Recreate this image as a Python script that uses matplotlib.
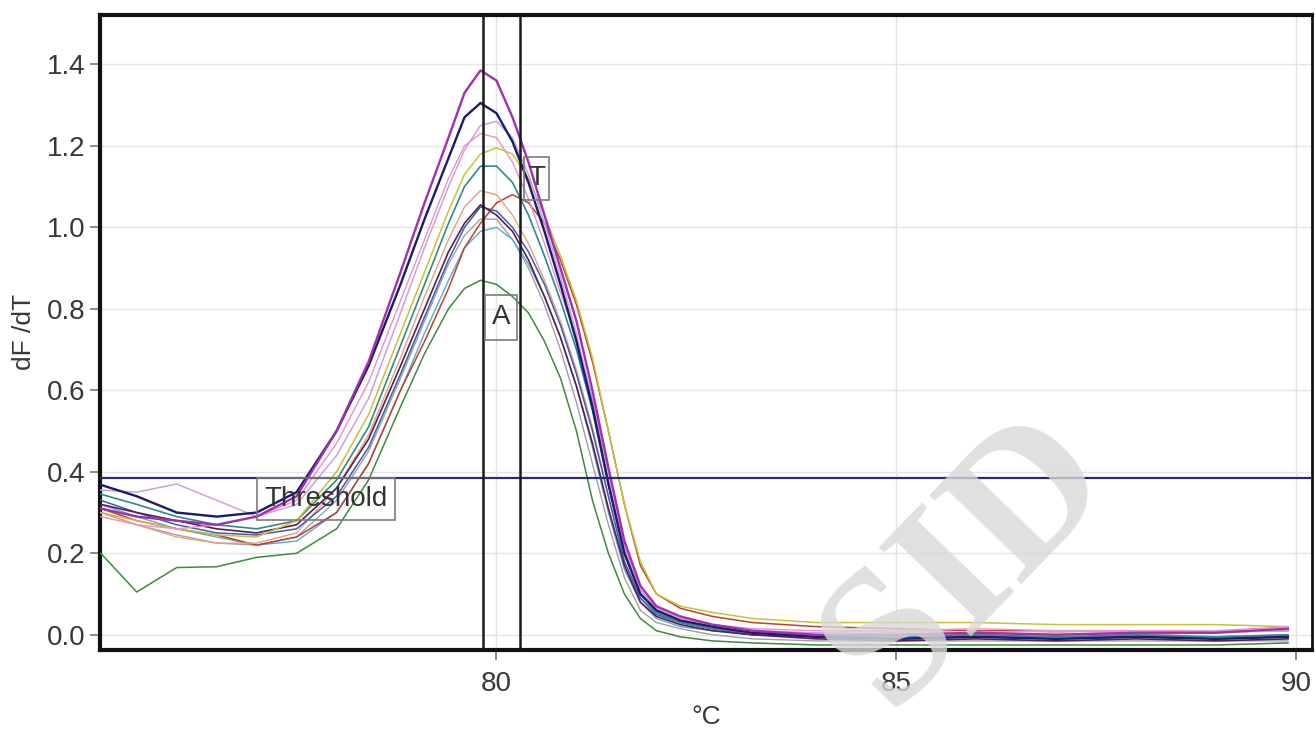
import matplotlib
matplotlib.use('Agg')
from matplotlib import pyplot as plt
from matplotlib.patches import Rectangle

# Melt curve data.
temps = [75.05, 75.5, 76.0, 76.5, 77.0, 77.5, 78.0, 78.4, 78.8, 79.1, 79.4, 79.6,
         79.8, 80.0, 80.2, 80.4, 80.6, 80.8, 81.0, 81.2, 81.4, 81.6, 81.8, 82.0,
         82.3, 82.7, 83.2, 84.0, 85.0, 86.0, 87.0, 88.0, 89.0, 89.9]

green = [0.20, 0.105, 0.165, 0.167, 0.19, 0.20, 0.26, 0.38, 0.56, 0.69, 0.80, 0.85,
         0.87, 0.86, 0.83, 0.79, 0.72, 0.63, 0.50, 0.33, 0.20, 0.10, 0.04, 0.01,
         -0.005, -0.015, -0.02, -0.025, -0.025, -0.025, -0.025, -0.025, -0.025, -0.02]
gray = [0.30, 0.27, 0.245, 0.225, 0.22, 0.24, 0.33, 0.45, 0.63, 0.77, 0.91, 0.98,
        1.02, 1.02, 0.97, 0.90, 0.81, 0.70, 0.57, 0.42, 0.27, 0.14, 0.06, 0.03,
        0.015, 0.0, -0.01, -0.015, -0.015, -0.015, -0.015, -0.015, -0.015, -0.015]
light_blue = [0.32, 0.29, 0.26, 0.24, 0.22, 0.23, 0.30, 0.42, 0.60, 0.74, 0.87, 0.95,
              0.99, 1.00, 0.97, 0.91, 0.83, 0.73, 0.61, 0.46, 0.30, 0.16, 0.08, 0.04,
              0.02, 0.01, 0.0, -0.005, -0.005, -0.005, -0.005, -0.005, -0.005, 0.0]
red = [0.31, 0.28, 0.26, 0.245, 0.22, 0.24, 0.30, 0.42, 0.60, 0.72, 0.85, 0.95,
       1.01, 1.06, 1.08, 1.06, 1.01, 0.92, 0.81, 0.67, 0.50, 0.32, 0.17, 0.10,
       0.065, 0.045, 0.03, 0.02, 0.015, 0.01, 0.01, 0.01, 0.01, 0.01]
salmon = [0.30, 0.27, 0.24, 0.225, 0.225, 0.25, 0.36, 0.49, 0.68, 0.83, 0.97, 1.05,
          1.09, 1.08, 1.03, 0.96, 0.87, 0.77, 0.65, 0.51, 0.34, 0.18, 0.09, 0.05,
          0.03, 0.015, 0.005, 0.0, 0.005, 0.0, 0.005, 0.0, 0.005, 0.01]
blue = [0.33, 0.30, 0.27, 0.25, 0.245, 0.26, 0.34, 0.46, 0.64, 0.78, 0.92, 1.00,
        1.05, 1.04, 1.00, 0.94, 0.86, 0.76, 0.64, 0.50, 0.34, 0.18, 0.09, 0.05,
        0.03, 0.015, 0.0, -0.005, -0.01, -0.005, -0.01, -0.005, -0.01, -0.005]
maroon = [0.32, 0.30, 0.28, 0.26, 0.25, 0.27, 0.36, 0.48, 0.66, 0.80, 0.94, 1.01,
          1.055, 1.03, 0.99, 0.92, 0.83, 0.73, 0.61, 0.47, 0.31, 0.17, 0.08, 0.045,
          0.025, 0.01, 0.0, -0.01, -0.015, -0.01, -0.015, -0.01, -0.015, -0.01]
teal = [0.345, 0.32, 0.29, 0.27, 0.26, 0.28, 0.38, 0.51, 0.71, 0.86, 1.01, 1.10,
        1.15, 1.15, 1.11, 1.03, 0.93, 0.82, 0.70, 0.55, 0.37, 0.20, 0.10, 0.055,
        0.03, 0.015, 0.005, 0.0, -0.005, 0.0, -0.005, 0.0, -0.005, 0.0]
olive = [0.30, 0.28, 0.26, 0.245, 0.24, 0.28, 0.40, 0.54, 0.74, 0.89, 1.04, 1.13,
         1.18, 1.195, 1.18, 1.12, 1.03, 0.93, 0.82, 0.68, 0.50, 0.32, 0.18, 0.10,
         0.07, 0.055, 0.04, 0.03, 0.03, 0.03, 0.025, 0.025, 0.025, 0.02]
pink = [0.29, 0.27, 0.26, 0.27, 0.29, 0.33, 0.47, 0.62, 0.82, 0.97, 1.12, 1.20,
        1.23, 1.22, 1.16, 1.07, 0.96, 0.84, 0.73, 0.58, 0.40, 0.22, 0.11, 0.065,
        0.04, 0.025, 0.015, 0.01, 0.01, 0.015, 0.01, 0.01, 0.01, 0.02]
violet = [0.355, 0.35, 0.37, 0.33, 0.29, 0.32, 0.44, 0.58, 0.79, 0.95, 1.10, 1.19,
          1.25, 1.26, 1.22, 1.13, 1.01, 0.88, 0.74, 0.57, 0.38, 0.21, 0.11, 0.06,
          0.035, 0.02, 0.01, 0.005, 0.01, 0.005, 0.01, 0.005, 0.01, 0.01]
navy = [0.368, 0.34, 0.30, 0.29, 0.30, 0.35, 0.50, 0.66, 0.86, 1.02, 1.17, 1.27,
        1.305, 1.28, 1.21, 1.11, 0.99, 0.86, 0.72, 0.56, 0.37, 0.20, 0.10, 0.06,
        0.035, 0.02, 0.005, -0.005, -0.01, -0.005, -0.01, -0.005, -0.01, -0.005]
magenta = [0.31, 0.29, 0.28, 0.27, 0.29, 0.34, 0.50, 0.67, 0.89, 1.06, 1.22, 1.33,
           1.385, 1.36, 1.27, 1.16, 1.03, 0.90, 0.77, 0.60, 0.41, 0.23, 0.12, 0.07,
           0.045, 0.025, 0.01, 0.0, 0.0, 0.005, 0.0, 0.005, 0.005, 0.015]

curves = [
    (green, '#3f8a3f', 1.1),
    (gray, '#a0a0a0', 1.0),
    (light_blue, '#5aa8d8', 1.0),
    (red, '#b8442e', 1.1),
    (salmon, '#e8a080', 1.0),
    (blue, '#3a5fb0', 1.1),
    (maroon, '#5a1e4e', 1.2),
    (teal, '#2e8b8b', 1.2),
    (olive, '#c8c23a', 1.1),
    (pink, '#e890c8', 1.0),
    (violet, '#c9a2dc', 1.1),
    (navy, '#1a1a6e', 1.7),
    (magenta, '#a030b0', 1.7),
]

threshold = 0.385
marker_lines = [79.83, 80.3]

plt.rcParams['font.family'] = ['Liberation Sans', 'DejaVu Sans']

fig = plt.figure(figsize=(13.15, 7.31), dpi=100)
ax = fig.add_axes([0.076, 0.111, 0.9217, 0.8685])

for values, color, lw in curves:
    ax.plot(temps, values, color=color, lw=lw, zorder=3)

ax.axhline(threshold, color='#2a2a6a', lw=1.6, zorder=4)
for xv in marker_lines:
    ax.axvline(xv, color='#1a1a1a', lw=1.8, zorder=5)

# Label boxes (outline only, curves show through).
def boxed(x0, y0, w, h, text):
    ax.add_patch(Rectangle((x0, y0), w, h, facecolor='none', edgecolor='#7a7a7a',
                           lw=1.2, zorder=6))
    ax.text(x0 + w / 2, y0 + h / 2, text, ha='center', va='center',
            fontsize=20, color='#333333', zorder=7)

boxed(77.0, 0.282, 1.73, 0.103, 'Threshold')
boxed(80.35, 1.067, 0.31, 0.106, 'T')
boxed(79.86, 0.724, 0.40, 0.110, 'A')

# Format plot.
ax.set_xlim(75.04, 90.2)
ax.set_ylim(-0.037, 1.521)
ax.set_xticks([80, 85, 90])
ax.set_yticks([0.0, 0.2, 0.4, 0.6, 0.8, 1.0, 1.2, 1.4])
ax.set_yticklabels(['0.0', '0.2', '0.4', '0.6', '0.8', '1.0', '1.2', '1.4'])
ax.grid(True, color='#e4e4e4', lw=1.0, zorder=0)
ax.set_axisbelow(True)
ax.tick_params(axis='both', labelsize=20, labelcolor='#383838', color='#777777',
               length=7, width=1.2)
ax.tick_params(axis='x', pad=8)
ax.set_xlabel('°C', fontsize=19, color='#383838', labelpad=6)
ax.set_ylabel('dF /dT', fontsize=19, color='#383838', labelpad=8)

for side in ['left', 'bottom', 'top']:
    ax.spines[side].set_linewidth(3)
    ax.spines[side].set_color('#111111')
ax.spines['right'].set_linewidth(2)
ax.spines['right'].set_color('#111111')

# Watermark.
fig.text(968 / 1315, 1 - 562 / 731, 'SID', ha='center', va='center',
         rotation=46, rotation_mode='anchor', fontsize=140, fontweight='bold',
         family=['Liberation Serif', 'DejaVu Serif'], color='#d9d9d9', alpha=0.8,
         zorder=20)

fig.savefig('out.png', dpi=100)
